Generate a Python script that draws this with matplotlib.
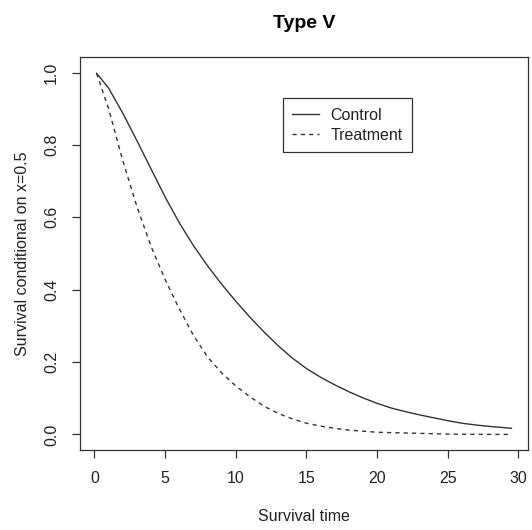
import matplotlib
matplotlib.use("Agg")
import matplotlib.pyplot as plt

# ---- data ----
time = [0.15, 1, 2, 3, 4, 5, 6, 7, 8, 9, 10, 11, 12, 13, 14, 15, 16, 17, 18, 19,
        20, 21, 22, 23, 24, 25, 26, 27, 28, 29.5]
control = [0.998, 0.957, 0.888, 0.812, 0.734, 0.656, 0.585, 0.522, 0.466, 0.415,
           0.368, 0.324, 0.283, 0.245, 0.211, 0.182, 0.158, 0.137, 0.118, 0.101,
           0.086, 0.073, 0.063, 0.054, 0.046, 0.038, 0.031, 0.026, 0.022, 0.017]
treatment = [0.998, 0.900, 0.757, 0.630, 0.520, 0.428, 0.347, 0.274, 0.214, 0.170,
             0.134, 0.104, 0.078, 0.058, 0.043, 0.031, 0.023, 0.017, 0.012, 0.009,
             0.006, 0.005, 0.004, 0.003, 0.002, 0.001, 0.0005, 0.0003, 0.0001, 0.0]
series_labels = ["Control", "Treatment"]
xticks = [0, 5, 10, 15, 20, 25, 30]
yticks = [0.0, 0.2, 0.4, 0.6, 0.8, 1.0]
ytick_labels = ["0.0", "0.2", "0.4", "0.6", "0.8", "1.0"]
title = "Type V"
xlabel = "Survival time"
ylabel = "Survival conditional on x=0.5"

plt.rcParams['font.family'] = ['Liberation Sans', 'DejaVu Sans']
TXT = '#222222'
LC = '#333333'
FS = 11.5

fig = plt.figure(figsize=(5.32, 5.30), dpi=100)
ax = fig.add_axes([80/532, 1-450/530, 448/532, 393/530])

ax.plot(time, control, color=LC, lw=1.0, label=series_labels[0])
ax.plot(time, treatment, color=LC, lw=1.0, linestyle=(0, (3, 3)), label=series_labels[1])

# R-style 4% padding
xmin, xmax = min(time), max(time)
dx = (xmax - xmin) * 0.04
ax.set_xlim(xmin - dx, xmax + dx)
ax.set_ylim(-0.043, 1.043)

ax.set_xticks(xticks)
ax.set_xticklabels([str(t) for t in xticks])
ax.set_yticks(yticks)
ax.set_yticklabels(ytick_labels, rotation=90, va='center')
ax.tick_params(direction='out', length=6, width=0.9, color=LC, labelsize=FS,
               labelcolor=TXT, pad=9)
for s in ax.spines.values():
    s.set_color(LC)
    s.set_linewidth(0.9)

ax.set_xlabel(xlabel, fontsize=FS, color=TXT, labelpad=17)
ax.set_ylabel(ylabel, fontsize=FS, color=TXT, labelpad=10)
ax.set_title(title, fontsize=14, fontweight='bold', color='black', pad=21)

leg = ax.legend(loc='upper left', bbox_to_anchor=(0.4525, 0.895), fontsize=FS,
                frameon=True, fancybox=False, edgecolor=LC, framealpha=1,
                borderaxespad=0, handlelength=1.7, handletextpad=0.7,
                labelspacing=0.3, borderpad=0.6)
leg.get_frame().set_linewidth(0.9)
for t in leg.get_texts():
    t.set_color(TXT)

fig.savefig("out.png", dpi=100, facecolor='white')
